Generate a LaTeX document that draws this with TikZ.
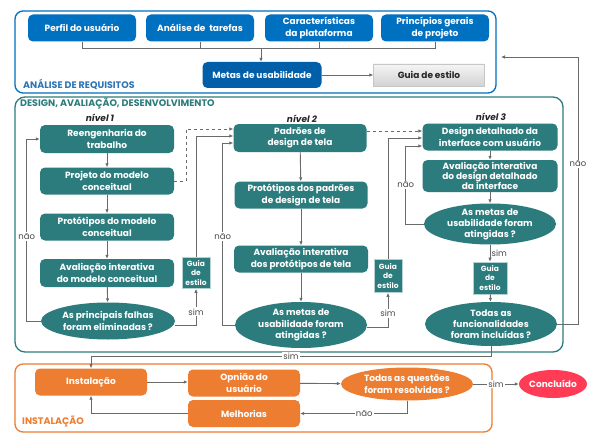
\documentclass[tikz,border=0pt]{standalone}
\usepackage{fontspec}
\setmainfont{Poppins}
\usetikzlibrary{shapes.geometric,arrows.meta}
\definecolor{cblue}{HTML}{0070C0}
\definecolor{cbluedark}{HTML}{005FA8}
\definecolor{clabblue}{HTML}{2E75B6}
\definecolor{cteal}{HTML}{2C7C7D}
\definecolor{corange}{HTML}{ED7D31}
\definecolor{cred}{HTML}{FF3B55}
\definecolor{cgray}{HTML}{6A6A6A}
\newcommand{\boxfont}{\bfseries\fontsize{9}{11.5}\selectfont}
\begin{document}
\begin{tikzpicture}[x=1pt,y=-1pt,
  box/.style={rounded corners=5pt, text=white, font=\boxfont, align=center, inner sep=0pt},
  bbox/.style={box, fill=cblue, minimum width=108pt, minimum height=27pt},
  tbox/.style={box, fill=cteal, minimum width=134pt},
  obox/.style={box, fill=corange, minimum width=112pt, minimum height=27pt},
  tell/.style={ellipse, fill=cteal, text=white, font=\boxfont, align=center, inner xsep=-30pt, inner ysep=-15pt},
  oell/.style={ellipse, fill=corange, text=white, font=\boxfont, align=center, inner xsep=-30pt, inner ysep=-12pt},
  guiat/.style={rectangle, fill=cteal, draw=white!65!cteal, line width=0.6pt, text=white,
    font=\bfseries\fontsize{7.5}{9.5}\selectfont, align=center, inner sep=0pt},
  guiag/.style={rectangle, top color=gray!8, bottom color=gray!35, draw=gray!45,
    font=\boxfont, text=black!85, inner sep=0pt},
  ln/.style={draw=cgray, line width=0.9pt},
  arr/.style={ln, -{Latex[length=4pt,width=3.5pt]}},
  lbl/.style={fill=white, inner sep=1.2pt, text=cgray!70!black, font=\fontsize{8.5}{10}\selectfont},
  lvl/.style={font=\bfseries\itshape\fontsize{9}{10}\selectfont, text=black!85},
  sec/.style={anchor=west, font=\bfseries\fontsize{9.5}{11}\selectfont, inner sep=0pt}
]
\useasboundingbox[fill=white] (0,0) rectangle (611,444);

% section frames
\draw[cblue, line width=1.3pt, rounded corners=8pt] (15,11) rectangle (496,93);
\draw[cteal, line width=1.3pt, rounded corners=10pt] (15,97) rectangle (563,352);
\draw[corange, line width=1.3pt, rounded corners=8pt] (15,364) rectangle (492,432);
\node[sec, text=clabblue] (secA) at (23,84) {ANÁLISE DE REQUISITOS};
\node[sec, text=cteal] (secB) at (20,104) {DESIGN, AVALIAÇÃO, DESENVOLVIMENTO};
\node[sec, text=corange] (secC) at (22,422) {INSTALAÇÃO};

% top section
\node[bbox] (perfil) at (82,28) {Perfil do usuário};
\node[bbox] (analise) at (200,28) {Análise de\ \ tarefas};
\node[bbox] (carac) at (319,28) {Características\\da plataforma};
\node[bbox] (princ) at (435,28) {Princípios gerais\\de projeto};
\node[box, fill=cbluedark, minimum width=119pt, minimum height=26pt] (metas) at (262,75) {Metas de usabilidade};
\node[guiag, minimum width=111pt, minimum height=22pt] (guia0) at (429,75) {Guia de estilo};
\coordinate (tj) at (261,48);
\draw[ln] (perfil.south) |- (princ.south|-tj) -- (princ.south);
\draw[ln] (analise.south) -- (analise.south|-tj);
\draw[ln] (carac.south) -- (carac.south|-tj);
\draw[arr] (tj) -- (tj|-metas.north);
\draw[arr] (metas) -- (guia0);

% level labels
\node[lvl] (n1) at (100,118) {nível 1};
\node[lvl] (n2) at (302,119) {nível 2};
\node[lvl] (n3) at (491,117) {nível 3};

% level 1
\node[tbox, minimum height=28pt] (reeng) at (107,139) {Reengenharia do\\trabalho};
\node[tbox, minimum height=27pt] (proj) at (107,181) {Projeto do modelo\\conceitual};
\node[tbox, minimum height=27pt] (prot1) at (107,227) {Protótipos do modelo\\conceitual};
\node[tbox, minimum height=28pt] (aval1) at (107,273) {Avaliação interativa\\do modelo conceitual};
\node[tell, minimum width=134pt, minimum height=37pt] (ell1) at (108,321) {As principais falhas\\foram eliminadas ?};
\node[guiat, minimum width=28pt, minimum height=31pt] (g1) at (196,273) {Guia\\de\\estilo};
\draw[arr] (reeng) -- (proj);
\draw[arr] (proj) -- (prot1);
\draw[arr] (prot1) -- (aval1);
\draw[arr] (aval1) -- (ell1);
\draw[arr] (ell1.west) -- ++(-14,0) coordinate (l1a) -- (l1a|-reeng.west) -- (reeng.west);
\coordinate (nao1pos) at (l1a|-prot1.south);
\node[lbl, yshift=4pt] (nao1) at (nao1pos) {não};
\draw[arr] ([yshift=-4pt]ell1.east) -| node[lbl,pos=0.68]{sim} (g1.south);

% level 2
\node[tbox, minimum width=133pt, minimum height=28pt] (pad) at (300,138) {Padrões de\\design de tela};
\node[tbox, minimum width=133pt, minimum height=27pt] (prot2) at (301,195) {Protótipos dos padrões\\de design de tela};
\node[tbox, minimum height=27pt] (aval2) at (301,259) {Avaliação interativa\\dos protótipos de tela};
\node[tell, minimum width=132pt, minimum height=46pt] (ell2) at (301,325) {As metas de\\usabilidade foram\\atingidas ?};
\node[guiat, minimum width=28pt, minimum height=33pt] (g2) at (388,276) {Guia\\de\\estilo};
\coordinate (padin) at ([yshift=-5pt]pad.west);
\draw[arr] (pad) -- (prot2);
\draw[arr] (prot2) -- (aval2);
\draw[arr] (aval2) -- (ell2);
\draw[arr, dashed] (proj.east) -- ++(12,0) |- ([yshift=9pt]pad.west);
\draw[arr] (g1.north) |- ([yshift=2pt]pad.west);
\draw[arr] (ell2.west) -- ++(-12,0) coordinate (l2a) -- (l2a|-padin) -- (padin);
\coordinate (nao2pos) at (l2a|-prot1.south);
\node[lbl, yshift=4pt] (nao2) at (nao2pos) {não};
\draw[arr] ([yshift=-2pt]ell2.east) -| node[lbl,pos=0.7]{sim} (g2.south);

% level 3
\node[tbox, minimum width=135pt, minimum height=27pt] (det) at (490,137) {Design detalhado da\\interface com usuário};
\node[tbox, minimum width=135pt, minimum height=32pt, font=\bfseries\fontsize{9}{10}\selectfont] (aval3) at (490,176) {Avaliação interativa\\do design detalhado\\da interface};
\node[tell, minimum width=132pt, minimum height=41pt, font=\bfseries\fontsize{9}{11}\selectfont] (ell3) at (490,224) {As metas de\\usabilidade foram\\atingidas ?};
\node[guiat, minimum width=34pt, minimum height=32pt] (g3) at (490,278) {Guia\\de\\estilo};
\node[tell, minimum width=132pt, minimum height=44pt, font=\bfseries\fontsize{9}{11}\selectfont] (ellf) at (491,324) {Todas as\\funcionalidades\\foram incluídas ?};
\draw[arr, dashed] ([yshift=7pt]pad.east) -- ([yshift=7pt]pad.east -| det.west);
\draw[arr] (g2.north) |- ([yshift=-1pt]det.west);
\draw[arr] (det) -- (aval3);
\draw[arr] (aval3) -- (ell3);
\draw[arr] (ell3) -- node[right, lbl, fill=none]{sim} (g3);
\draw[arr] (g3) -- (ellf);
\draw[arr] (ell3.west) -- ++(-18,0) |- node[lbl,pos=0.25]{não} ([yshift=-9pt]det.west);
\coordinate (retc) at (578,57);
\coordinate (ret) at (501,57);
\draw[arr] (ellf.east) -| node[lbl,pos=0.8]{não} (retc) -- (ret);

% installation
\node[obox] (inst) at (91,382) {Instalação};
\node[obox] (opin) at (244,383) {Opnião do\\usuário};
\node[obox] (melh) at (244,413.5) {Melhorias};
\node[oell, minimum width=132pt, minimum height=33pt] (ellq) at (407,384) {Todas as questões\\foram resolvidas ?};
\node[ellipse, fill=cred, text=white, font=\boxfont, inner xsep=-20pt, inner ysep=-8pt, minimum width=68pt, minimum height=28pt] (concl) at (553,384) {Concluído};
\coordinate (simc) at (491,356);
\draw[arr] (ellf.south) |- node[lbl,pos=0.75]{sim} (inst.north|-simc) -- (inst.north);
\draw[arr] (inst.east) -- (inst.east-|opin.west);
\draw[arr] (opin) -- (ellq);
\draw[arr] (ellq.south) |- node[lbl,pos=0.7]{não} (melh.east);
\draw[arr] (melh.west) -| (inst.south);
\draw[arr] (ellq.east) -- node[lbl]{sim} (concl.west);
\end{tikzpicture}
\end{document}
